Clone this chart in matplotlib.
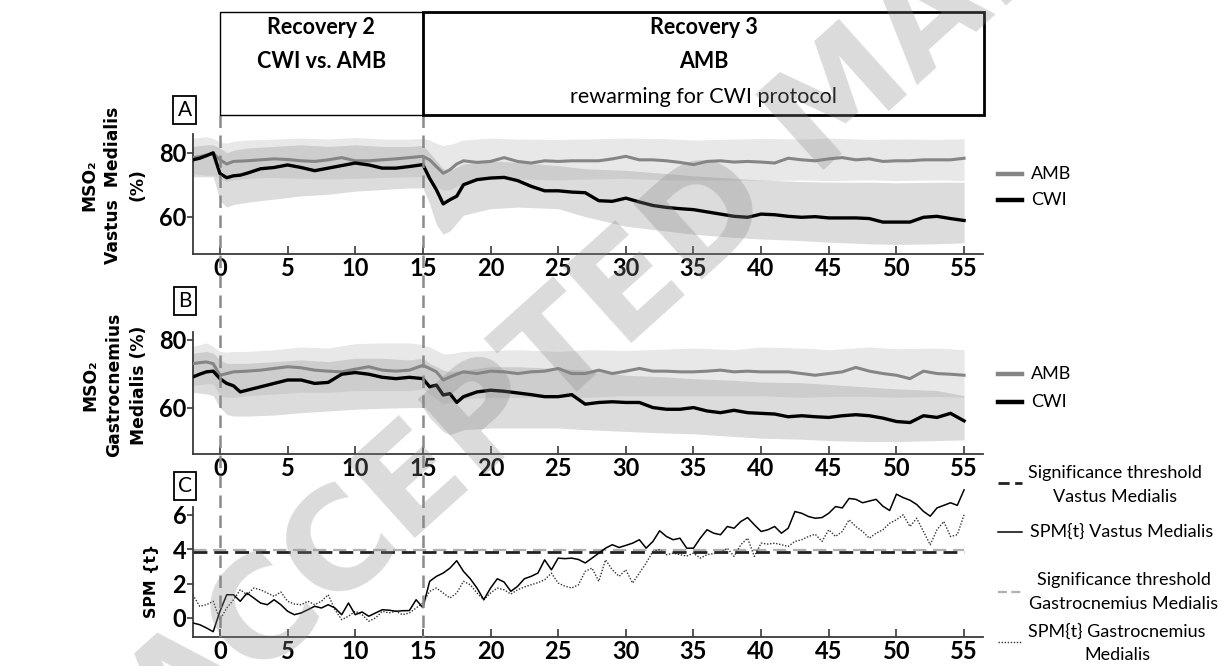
import numpy as np
import matplotlib
matplotlib.use("Agg")
import matplotlib.pyplot as plt
import matplotlib.transforms as mtransforms
from matplotlib.lines import Line2D
from matplotlib.patches import Rectangle

plt.rcParams['font.family'] = ['Lato', 'DejaVu Sans']

W, H = 1231, 666

# ---- data (time in min) ----
x_ticks = [0, 5, 10, 15, 20, 25, 30, 35, 40, 45, 50, 55]
phase_marks = [0, 15]

t_ab = [-2, -1.5, -1, -0.5, 0, 0.5, 1, 1.5, 2,
        3, 4, 5, 6, 7, 8, 9, 10, 11, 12, 13, 14,
        15, 15.5, 16, 16.5, 17, 17.5, 18] + list(range(19, 56))

# A: MSO2 vastus medialis (%)
a_cwi = [77.8, 78.3, 79.1, 80.0, 73.5, 72.2, 72.8, 73.0, 73.6,
         75.0, 75.4, 76.2, 75.4, 74.4, 75.2, 76.0, 76.8, 76.2, 75.2, 75.2, 75.7,
         76.3, 72.0, 68.4, 64.0, 65.3, 66.4, 70.0,
         71.6, 72.1, 72.3, 71.3, 69.5, 68.1, 68.1, 67.7, 67.5, 65.0, 64.8, 65.8,
         64.6, 63.5, 62.9, 62.5, 62.2, 61.5, 60.8, 60.1, 59.8, 60.8, 60.6, 60.1,
         59.8, 60.0, 59.6, 59.6, 59.6, 59.4, 58.3, 58.3, 58.3, 59.8, 60.1, 59.4, 58.8]
a_amb = [78.5, 78.8, 79.3, 79.8, 77.8, 76.5, 77.3, 77.4, 77.5,
         77.8, 78.1, 77.9, 77.5, 77.3, 77.8, 78.5, 77.5, 77.5, 77.8, 78.1, 78.5,
         78.9, 77.8, 75.7, 73.6, 74.7, 76.5, 77.5,
         77.0, 77.3, 78.5, 77.3, 76.8, 77.5, 77.3, 77.5, 77.5, 77.5, 78.1, 78.9,
         77.8, 77.8, 77.5, 77.0, 76.3, 77.3, 77.5, 77.1, 77.3, 77.1, 76.8, 78.3,
         77.8, 77.5, 78.1, 78.5, 77.8, 78.1, 77.3, 77.5, 77.5, 77.8, 77.8, 77.8, 78.3]

# B: MSO2 gastrocnemius medialis (%)
b_cwi = [69.0, 69.8, 70.5, 70.7, 68.5, 67.1, 66.4, 64.6, 65.1,
         66.1, 67.1, 68.1, 68.1, 67.1, 67.4, 69.8, 70.3, 69.8, 68.9, 68.5, 68.9,
         68.5, 66.1, 66.6, 63.7, 64.1, 61.5, 63.2,
         64.6, 65.1, 64.8, 64.3, 63.8, 63.2, 63.2, 63.8, 61.0, 61.5, 61.7, 61.5,
         61.5, 60.0, 59.5, 59.5, 60.0, 59.0, 58.5, 59.2, 58.5, 58.3, 58.1, 57.3,
         57.6, 57.3, 57.1, 57.6, 57.9, 57.6, 56.9, 55.9, 55.6, 57.6, 57.1, 58.3, 56.1]
b_amb = [72.9, 73.2, 73.4, 72.9, 69.5, 70.0, 70.5, 70.6, 70.7,
         71.0, 71.5, 72.0, 71.7, 71.0, 70.7, 70.5, 71.3, 72.0, 71.0, 70.7, 71.0,
         72.4, 71.5, 70.5, 68.1, 69.0, 69.8, 70.5,
         70.0, 70.7, 70.5, 70.0, 70.5, 70.7, 71.5, 70.0, 70.0, 71.0, 70.0, 70.7,
         71.5, 70.7, 70.7, 70.5, 70.5, 70.7, 71.0, 70.5, 70.7, 70.5, 70.5, 70.5,
         70.0, 69.5, 70.0, 70.5, 71.8, 70.7, 70.0, 69.5, 68.5, 70.7, 70.0, 69.8, 69.5]

# SD bands (upper / lower edges)
t_band = [-2, -1, -0.5, 0, 0.5, 1, 2, 4, 6, 8, 10, 12, 14,
          15, 15.5, 16, 16.5, 17, 18,
          20, 22, 25, 27, 30, 33, 35, 38, 40, 43, 45, 48, 50, 53, 55]
a_amb_hi = [84.6, 85.0, 84.5, 83.4, 83.0, 83.6, 84.0, 84.3, 84.6, 84.3, 84.8, 84.3, 84.3,
            84.5, 84.0, 83.0, 82.3, 82.6, 84.0,
            84.6, 84.3, 84.2, 84.3, 84.6, 84.4, 84.0, 84.3, 84.5, 84.3, 84.6, 84.2, 84.3, 84.2, 84.4]
a_amb_lo = [73.5, 73.0, 73.0, 72.0, 71.0, 71.5, 72.0, 72.3, 72.0, 71.8, 72.0, 72.3, 72.5,
            72.5, 71.5, 69.5, 68.3, 68.5, 70.5,
            72.0, 71.8, 71.5, 71.8, 72.0, 71.5, 71.5, 71.5, 71.3, 71.5, 71.3, 71.5, 71.3, 71.5, 71.3]
a_cwi_hi = [82.0, 82.5, 82.5, 81.5, 80.0, 80.8, 81.5, 82.0, 82.5, 82.0, 82.5, 82.0, 82.0,
            82.3, 80.0, 77.5, 75.0, 74.5, 76.5,
            77.5, 77.0, 76.0, 75.0, 74.5, 73.5, 72.8, 72.0, 71.5, 71.0, 70.8, 70.8, 70.6, 70.8, 70.8]
a_cwi_lo = [72.5, 72.5, 72.5, 65.0, 63.0, 63.8, 64.5, 65.5, 66.5, 67.0, 68.0, 68.5, 69.0,
            69.0, 64.0, 57.5, 54.5, 55.5, 60.5,
            62.5, 63.0, 62.5, 60.0, 57.0, 55.5, 54.5, 53.5, 53.0, 52.5, 52.0, 51.5, 51.3, 51.5, 51.8]
b_amb_hi = [78.0, 79.0, 78.0, 76.5, 76.3, 76.5, 76.5, 77.0, 77.8, 77.5, 78.8, 79.0, 79.0,
            78.5, 77.8, 76.8, 75.8, 75.8, 76.5,
            76.8, 77.0, 76.5, 77.0, 76.8, 77.2, 77.5, 77.0, 77.8, 77.5, 77.0, 77.8, 77.3, 77.5, 77.0]
b_amb_lo = [66.5, 67.0, 67.0, 63.5, 63.0, 63.0, 63.5, 64.0, 64.5, 64.5, 65.0, 65.0, 65.0,
            65.5, 64.0, 62.5, 61.0, 61.5, 62.5,
            63.0, 63.0, 63.0, 63.0, 63.5, 63.5, 63.5, 63.5, 63.5, 63.0, 63.3, 63.3, 63.0, 63.3, 63.0]
b_cwi_hi = [76.0, 76.5, 76.0, 74.0, 73.0, 73.0, 73.0, 73.5, 74.0, 73.5, 74.5, 74.5, 74.0,
            74.5, 73.0, 72.0, 71.0, 70.5, 71.0,
            72.0, 72.0, 71.5, 71.0, 69.5, 69.0, 68.5, 68.0, 67.5, 67.3, 66.8, 66.0, 65.5, 65.0, 63.5]
b_cwi_lo = [64.5, 64.0, 63.5, 60.0, 58.0, 57.5, 57.5, 57.8, 58.5, 59.0, 59.5, 59.8, 60.0,
            60.0, 57.0, 55.0, 53.0, 52.0, 53.5,
            54.0, 54.0, 54.0, 53.5, 53.0, 52.5, 52.3, 51.5, 51.0, 50.7, 50.3, 50.0, 50.0, 50.3, 50.5]

# C: SPM{t}, every 0.5 min from -2 to 55
t_c = np.arange(-2, 55.01, 0.5)
spm_vm = [-0.29, -0.39, -0.58, -0.80, 0.39, 1.35, 1.35, 0.97, 1.45, 1.16,
          0.87, 0.77, 1.06, 0.77, 0.39, 0.19, 0.29, 0.48, 0.68, 0.58,
          0.77, 0.58, 0.19, 0.87, 0.19, 0.35, 0.10, 0.29, 0.48, 0.45,
          0.39, 0.42, 0.43, 1.06, 0.60, 2.13, 2.42, 2.61, 2.90, 3.33,
          2.71, 2.28, 1.74, 1.06, 1.74, 2.28, 2.09, 1.55, 1.84, 2.28,
          2.42, 2.61, 3.38, 2.80, 3.48, 3.45, 3.48, 3.40, 3.20, 3.48,
          3.77, 4.06, 4.26, 4.10, 4.22, 4.35, 4.55, 4.06, 4.45, 5.07,
          4.74, 4.55, 4.64, 4.06, 4.06, 4.64, 5.13, 4.93, 4.84, 5.32,
          5.22, 5.61, 5.84, 5.42, 5.03, 5.13, 5.32, 4.93, 5.22, 6.19,
          6.09, 5.90, 5.80, 5.84, 6.09, 6.48, 6.40, 6.95, 6.90, 6.70,
          6.80, 6.90, 6.50, 6.25, 7.20, 7.00, 6.85, 6.60, 6.20, 5.92,
          6.40, 6.55, 6.70, 6.55, 7.45]
spm_gm = [1.35, 0.68, 0.77, 0.97, -0.10, 0.58, 1.06, 1.64, 1.35, 1.74,
          1.64, 1.45, 1.26, 1.51, 0.97, 0.81, 0.77, 0.97, 0.77, 0.97,
          1.35, 0.48, -0.10, 0.10, 0.39, 0.19, -0.19, 0.00, 0.39, 0.29,
          0.39, 0.19, 0.29, 0.58, 0.87, 1.55, 1.74, 1.45, 1.16, 1.45,
          2.13, 1.93, 1.45, 1.06, 1.45, 1.74, 1.64, 1.39, 1.64, 1.80,
          1.93, 2.05, 2.22, 2.61, 2.03, 1.85, 1.74, 1.93, 2.71, 2.90,
          2.13, 3.38, 2.80, 2.42, 2.80, 2.03, 2.61, 3.19, 3.87, 3.97,
          3.68, 3.77, 3.68, 3.60, 3.77, 3.48, 3.68, 3.75, 3.77, 4.06,
          3.58, 4.26, 4.64, 3.58, 4.35, 4.30, 4.35, 4.26, 4.16, 4.45,
          4.55, 4.74, 4.87, 4.45, 5.13, 4.74, 5.03, 5.71, 5.32, 5.03,
          4.64, 4.93, 5.13, 5.51, 5.71, 6.00, 5.32, 5.80, 5.03, 4.26,
          5.13, 5.61, 4.74, 4.84, 6.00]
vm_thr = 3.81
gm_thr = 3.96

panel_letters = ["A", "B", "C"]
ylabels = ["MSO\u2082\nVastus  Medialis\n(%)",
           "MSO\u2082\nGastrocnemius\nMedialis (%)",
           "SPM {t}"]


def fx(px):
    return px / W


def fy(py):
    return 1 - py / H


def box(l, t, r, b):
    return [fx(l), fy(b), (r - l) / W, (b - t) / H]


fig = plt.figure(figsize=(W / 100, H / 100), dpi=100)
ax_a = fig.add_axes(box(193.3, 134.3, 983, 254))
ax_b = fig.add_axes(box(193.3, 331.7, 983, 453.5))
ax_c = fig.add_axes(box(193.3, 487.3, 983, 636.7))

AMB_COL = "#858585"
BAND_AMB = "#e8e8e8"
BAND_CWI = "#9b9b9b"

for ax, amb, cwi, amb_lo, amb_hi, cwi_lo, cwi_hi in (
        (ax_a, a_amb, a_cwi, a_amb_lo, a_amb_hi, a_cwi_lo, a_cwi_hi),
        (ax_b, b_amb, b_cwi, b_amb_lo, b_amb_hi, b_cwi_lo, b_cwi_hi)):
    ax.fill_between(t_band, amb_lo, amb_hi, color=BAND_AMB, lw=0, zorder=1)
    ax.fill_between(t_band, cwi_lo, cwi_hi, color=BAND_CWI, alpha=0.35, lw=0, zorder=2)
    ax.plot(t_ab, amb, color=AMB_COL, lw=2.2, zorder=3)
    ax.plot(t_ab, cwi, color="black", lw=2.4, zorder=4)

ax_c.hlines(gm_thr, t_c[0], t_c[-1], color="#b0b0b0", lw=1.6, linestyles=(0, (6, 3)), zorder=2)
ax_c.hlines(vm_thr, t_c[0], t_c[-1], color="#222222", lw=2.0, linestyles=(0, (5, 2.5)), zorder=3)
ax_c.plot(t_c, spm_gm, color="#333333", lw=1.0, ls=(0, (1, 1.2)), zorder=4)
ax_c.plot(t_c, spm_vm, color="black", lw=1.1, zorder=5)

for ax, ylim, yt in ((ax_a, (48.3, 85.8), [60, 80]),
                     (ax_b, (46.5, 82.3), [60, 80]),
                     (ax_c, (-1.09, 7.6), [0, 2, 4, 6])):
    ax.set_xlim(-1.97, 56.4)
    ax.set_ylim(*ylim)
    ax.set_xticks(x_ticks)
    ax.set_yticks(yt)
    ax.patch.set_alpha(0)
    for s in ("top", "right"):
        ax.spines[s].set_visible(False)
    for s in ("left", "bottom"):
        ax.spines[s].set_color("#3a3a3a")
        ax.spines[s].set_linewidth(1.3)
    ax.tick_params(axis="x", direction="in", length=6, width=1.2, pad=2.5,
                   color="#3a3a3a", labelsize=17)
    ax.tick_params(axis="y", direction="out", length=4, width=1.2, pad=1,
                   color="#3a3a3a", labelsize=17)
    for lab in ax.get_xticklabels() + ax.get_yticklabels():
        lab.set_fontweight("bold")
ax_c.spines["left"].set_bounds(-1.09, 6.44)

# phase markers and header boxes (x in data units, y in figure units)
trans = mtransforms.blended_transform_factory(ax_a.transData, fig.transFigure)
for xv in phase_marks:
    fig.add_artist(Line2D([xv, xv], [fy(114.7), fy(636.7)], transform=trans,
                          color="#8a8a8a", lw=1.8, ls=(0, (5, 3)), zorder=6))
fig.add_artist(Rectangle((0, fy(114.7)), 15, (114.7 - 12) / H, transform=trans,
                         fill=False, ec="black", lw=1.0, zorder=6))
fig.add_artist(Rectangle((15, fy(114.7)), 41.5, (114.7 - 12) / H, transform=trans,
                         fill=False, ec="black", lw=2.0, zorder=6))
head = dict(transform=trans, ha="center", va="center", fontsize=15.5)
fig.text(7.5, fy(27), "Recovery 2", fontweight="bold", **head)
fig.text(7.5, fy(62), "CWI vs. AMB", fontweight="bold", **head)
fig.text(35.75, fy(27), "Recovery 3", fontweight="bold", **head)
fig.text(35.75, fy(62), "AMB", fontweight="bold", **head)
fig.text(35.75, fy(97), "rewarming for CWI protocol", **head)

# panel letters and y labels
for letter, cy in zip(panel_letters, [110, 301, 486]):
    fig.text(fx(184.7), fy(cy), letter, ha="center", va="center", fontsize=15,
             bbox=dict(boxstyle="square,pad=0.2", fc="white", ec="black", lw=1.3))
for lab, (cx, cy), fs in zip(ylabels, [(113.5, 185), (114.5, 385), (151.6, 581)],
                             [12.3, 12.3, 11.3]):
    fig.text(fx(cx), fy(cy), lab, rotation=90, ha="center", va="center",
             family="DejaVu Sans", fontweight="bold", fontsize=fs,
             linespacing=1.45, multialignment="center")


# legends
def legend_row(y_line, style, label, x_text, y_text, ha="left"):
    fig.add_artist(Line2D([fx(998), fx(1022)], [fy(y_line), fy(y_line)], **style))
    fig.text(fx(x_text), fy(y_text), label, ha=ha, va="center", fontsize=13,
             linespacing=1.55, multialignment="center")


thick_gray = dict(color=AMB_COL, lw=3.2)
thick_black = dict(color="black", lw=3.2)
for y1, y2 in ((174, 200), (374, 402)):
    legend_row(y1, thick_gray, "AMB", 1031, y1)
    legend_row(y2, thick_black, "CWI", 1031, y2)
legend_row(483, dict(color="#222222", lw=2.0, ls=(0, (4, 2))),
           "Significance threshold\nVastus Medialis", 1115, 485, "center")
legend_row(532, dict(color="black", lw=1.1), "SPM{t} Vastus Medialis", 1030, 532)
legend_row(592, dict(color="#b0b0b0", lw=1.6, ls=(0, (4, 2))),
           "Significance threshold\nGastrocnemius Medialis", 1124, 592, "center")
legend_row(642, dict(color="#333333", lw=1.0, ls=(0, (1, 1.2))),
           "SPM{t} Gastrocnemius\nMedialis", 1117, 643, "center")

# watermark
fig.text(fx(175), fy(755), "ACCEPTED MANUSCRIPT", rotation=42, rotation_mode="anchor",
         ha="left", va="baseline", fontsize=100, fontweight="bold", color="#888888",
         alpha=0.3, family="DejaVu Sans", zorder=20)

fig.savefig("out.png", dpi=100)
